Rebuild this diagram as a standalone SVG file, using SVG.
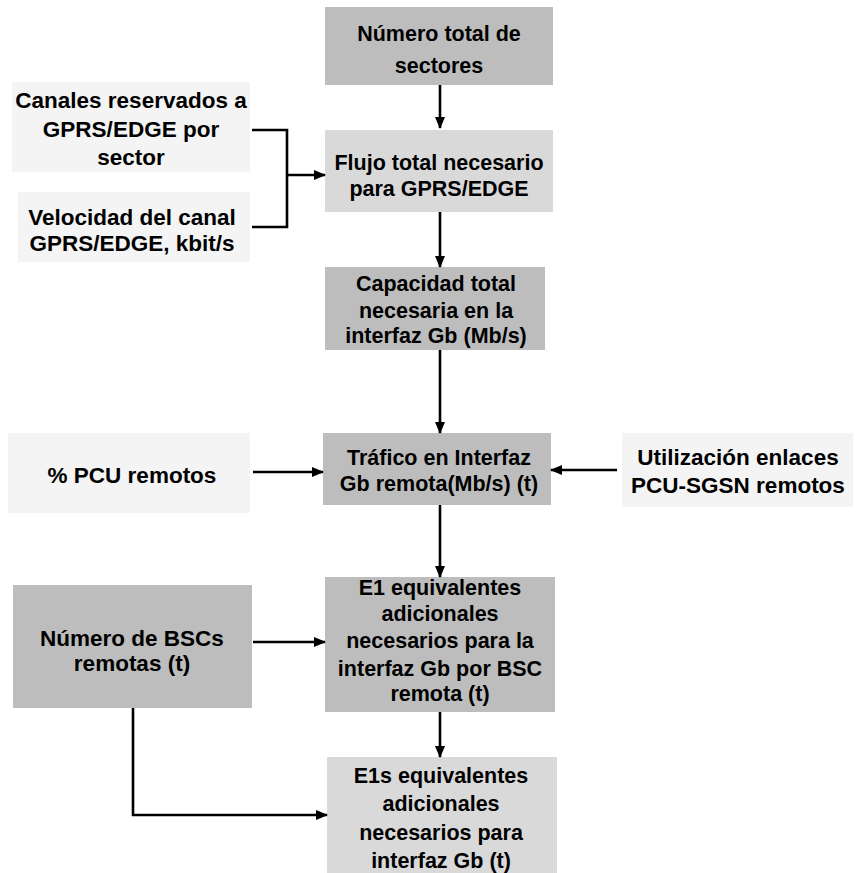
<svg xmlns="http://www.w3.org/2000/svg" width="856" height="873" viewBox="0 0 856 873">
<defs>
<marker id="ah" viewBox="0 0 12 10" refX="11" refY="5" markerWidth="12" markerHeight="10" markerUnits="userSpaceOnUse" orient="auto">
<path d="M0,0 L12,5 L0,10 Z" fill="#000"/>
</marker>
</defs>
<style>
.box{fill:#bdbdbd}
.lbox{fill:#d9d9d9}
.faint{fill:#f4f4f4}
.t{font-family:"Liberation Sans",Arial,sans-serif;font-weight:bold;font-size:21.5px;fill:#000;text-anchor:middle}
.o{font-family:"Liberation Sans",Arial,sans-serif;font-weight:bold;font-size:22.5px;fill:#000;text-anchor:middle}
.c{fill:none;stroke:#000;stroke-width:2.6}
</style>
<rect width="856" height="873" fill="#fff"/>

<g id="n1">
<rect class="box" x="325" y="7" width="228" height="78"/>
<text class="t" x="439" y="41">Número total de</text>
<text class="t" x="439" y="73">sectores</text>
</g>
<g id="n2">
<rect class="lbox" x="325" y="130" width="228" height="82"/>
<text class="t" x="439" y="170">Flujo total necesario</text>
<text class="t" x="439" y="196">para GPRS/EDGE</text>
</g>
<g id="n3">
<rect class="box" x="325" y="267" width="220" height="83"/>
<text class="t" x="436" y="291">Capacidad total</text>
<text class="t" x="436" y="318">necesaria en la</text>
<text class="t" x="436" y="343">interfaz Gb (Mb/s)</text>
</g>
<g id="n4">
<rect class="box" x="323" y="433" width="228" height="72"/>
<text class="t" x="439" y="465">Tráfico en Interfaz</text>
<text class="t" x="439" y="491">Gb remota(Mb/s) (t)</text>
</g>
<g id="n5">
<rect class="box" x="325" y="577" width="230" height="135"/>
<text class="t" x="440" y="595">E1 equivalentes</text>
<text class="t" x="440" y="621">adicionales</text>
<text class="t" x="440" y="648">necesarios para la</text>
<text class="t" x="440" y="676">interfaz Gb por BSC</text>
<text class="t" x="440" y="701">remota (t)</text>
</g>
<g id="n6">
<rect class="lbox" x="327" y="757" width="230" height="116"/>
<text class="t" x="441" y="783">E1s equivalentes</text>
<text class="t" x="441" y="811">adicionales</text>
<text class="t" x="441" y="840">necesarios para</text>
<text class="t" x="441" y="868">interfaz Gb (t)</text>
</g>
<g id="n7">
<rect class="faint" x="12" y="82" width="238" height="90"/>
<text class="o" x="131" y="108">Canales reservados a</text>
<text class="o" x="131" y="137">GPRS/EDGE por</text>
<text class="o" x="131" y="165">sector</text>
</g>
<g id="n8">
<rect class="faint" x="18" y="192" width="232" height="70"/>
<text class="o" x="132" y="225">Velocidad del canal</text>
<text class="o" x="132" y="251">GPRS/EDGE, kbit/s</text>
</g>
<g id="n9">
<rect class="faint" x="8" y="433" width="242" height="80"/>
<text class="o" x="132" y="483">% PCU remotos</text>
</g>
<g id="n10">
<rect class="faint" x="622" y="433" width="231" height="74"/>
<text class="o" x="738" y="465">Utilización enlaces</text>
<text class="o" x="738" y="493">PCU-SGSN remotos</text>
</g>
<g id="n11">
<rect class="box" x="13" y="585" width="239" height="123"/>
<text class="o" x="132" y="646">Número de BSCs</text>
<text class="o" x="132" y="671">remotas (t)</text>
</g>

<g id="connectors">
<line class="c" x1="440" y1="85" x2="440" y2="128" marker-end="url(#ah)"/>
<line class="c" x1="440" y1="212" x2="440" y2="267" marker-end="url(#ah)"/>
<line class="c" x1="440" y1="350" x2="440" y2="433" marker-end="url(#ah)"/>
<line class="c" x1="440" y1="505" x2="440" y2="577" marker-end="url(#ah)"/>
<line class="c" x1="440" y1="712" x2="440" y2="757" marker-end="url(#ah)"/>
<polyline class="c" points="252,130 287,130 287,227 252,227"/>
<line class="c" x1="287" y1="175" x2="325" y2="175" marker-end="url(#ah)"/>
<line class="c" x1="253" y1="472" x2="323" y2="472" marker-end="url(#ah)"/>
<line class="c" x1="617" y1="470" x2="551" y2="470" marker-end="url(#ah)"/>
<line class="c" x1="253" y1="642" x2="325" y2="642" marker-end="url(#ah)"/>
<polyline class="c" points="133,708 133,815 327,815" marker-end="url(#ah)"/>
</g>
</svg>
